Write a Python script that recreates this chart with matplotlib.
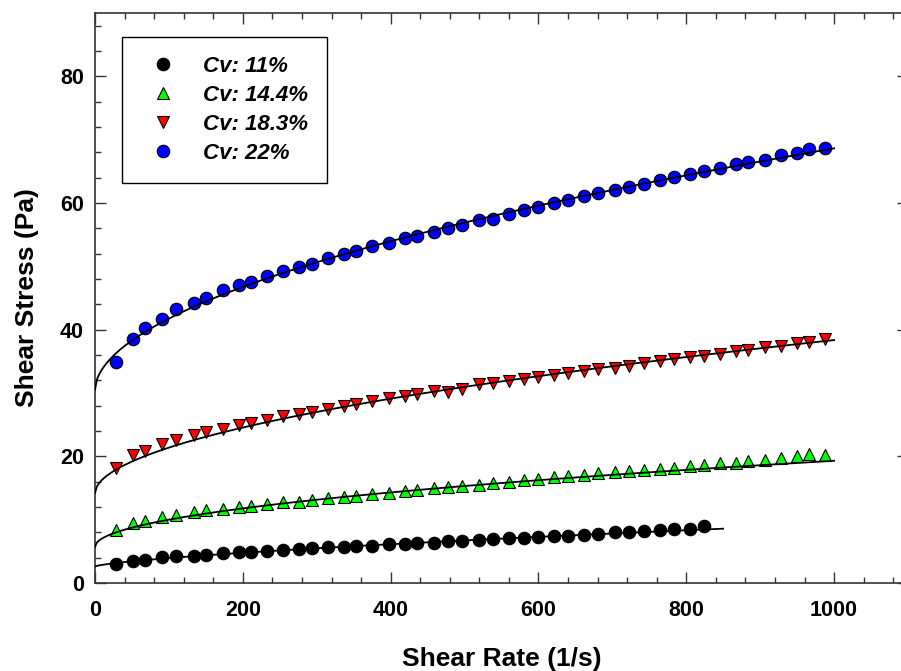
import numpy as np
import matplotlib
matplotlib.use('Agg')
import matplotlib.pyplot as plt
from matplotlib.ticker import MultipleLocator

plt.rcParams['font.family'] = ['Liberation Sans', 'DejaVu Sans']
plt.rcParams['font.weight'] = 'bold'

# shear rate (1/s)
rate = [29, 51, 68, 90, 110, 134, 150, 173, 195, 211, 233, 254, 276, 293, 315, 337,
        353, 375, 398, 420, 436, 458, 477, 497, 519, 538, 560, 580, 599, 621, 640, 662,
        681, 704, 723, 743, 764, 784, 805, 824, 845, 867, 884, 906, 928, 950, 966, 988]

# shear stress (Pa)
cv11 = [3.0, 3.43, 3.64, 4.06, 4.27, 4.32, 4.48, 4.69, 4.9, 4.95, 5.11, 5.22, 5.38, 5.48,
        5.64, 5.75, 5.85, 5.85, 6.11, 6.22, 6.32, 6.38, 6.59, 6.69, 6.8, 6.9, 7.17, 7.17,
        7.27, 7.43, 7.48, 7.64, 7.8, 8.01, 8.11, 8.17, 8.38, 8.49, 8.59, 8.96]
cv144 = [8.4, 9.4, 9.85, 10.4, 10.8, 11.2, 11.5, 11.75, 11.95, 12.2, 12.5, 12.75, 12.85,
         13.1, 13.4, 13.6, 13.8, 14.1, 14.2, 14.5, 14.75, 14.95, 15.1, 15.3, 15.5, 15.75,
         16.0, 16.2, 16.45, 16.7, 16.85, 17.1, 17.4, 17.5, 17.65, 17.9, 18.0, 18.2, 18.55,
         18.65, 18.9, 19.0, 19.3, 19.5, 19.75, 20.0, 20.3, 20.2]
cv183 = [18.1, 20.2, 20.9, 22.0, 22.6, 23.35, 23.8, 24.3, 24.9, 25.3, 25.8, 26.3, 26.7,
         27.0, 27.5, 28.0, 28.3, 28.7, 29.2, 29.6, 29.8, 30.25, 30.2, 30.7, 31.4, 31.6,
         31.9, 32.2, 32.5, 32.9, 33.2, 33.5, 33.8, 34.0, 34.3, 34.8, 35.1, 35.3, 35.7,
         35.9, 36.2, 36.6, 36.8, 37.2, 37.4, 37.9, 38.05, 38.5]
cv22 = [34.9, 38.5, 40.2, 41.7, 43.2, 44.2, 45.0, 46.2, 47.1, 47.6, 48.4, 49.2, 49.9,
        50.4, 51.3, 52.0, 52.4, 53.2, 53.7, 54.4, 54.8, 55.4, 56.0, 56.6, 57.3, 57.55,
        58.3, 58.9, 59.4, 60.0, 60.55, 61.1, 61.55, 62.0, 62.6, 63.0, 63.6, 64.1, 64.6,
        65.0, 65.6, 66.1, 66.4, 66.8, 67.6, 67.9, 68.5, 68.7]

labels = ['Cv: 11%', 'Cv: 14.4%', 'Cv: 18.3%', 'Cv: 22%']
colors = ['black', '#00ff00', '#ff0000', '#0000ff']
markers = ['o', '^', 'v', 'o']

# Herschel-Bulkley fit curves: tau0, K, n, max rate
fits = [(2.6, 0.0532, 0.70, 850),
        (5.7, 0.43, 0.50, 1000),
        (14.2, 0.634, 0.527, 1000),
        (30.5, 0.98, 0.53, 1000)]

fig = plt.figure(figsize=(9.01, 6.71), dpi=100, facecolor='w')
ax = fig.add_axes([95/901, 88/671, 813/901, 570/671])

series = [cv11, cv144, cv183, cv22]
for ydata, lab, col, mk, (t0, k, n, gmax) in zip(series, labels, colors, markers, fits):
    ax.plot(rate[:len(ydata)], ydata, linestyle='none', marker=mk, markersize=9,
            markerfacecolor=col, markeredgecolor='black', markeredgewidth=0.8,
            label=lab, zorder=3)
    g = np.linspace(0, gmax, 400)
    ax.plot(g, t0 + k * g**n, color='black', linewidth=1.3, zorder=4)

ax.set_xlim(0, 1100)
ax.set_ylim(0, 90)
ax.xaxis.set_major_locator(MultipleLocator(200))
ax.xaxis.set_minor_locator(MultipleLocator(40))
ax.yaxis.set_major_locator(MultipleLocator(20))
ax.yaxis.set_minor_locator(MultipleLocator(4))
ax.tick_params(which='both', direction='in', top=True, right=True, color='#333333')
ax.tick_params(which='major', length=8, width=1.0)
ax.tick_params(which='minor', length=4, width=1.0)
ax.tick_params(axis='x', labelsize=15.5, pad=12)
ax.tick_params(axis='y', labelsize=15.5, pad=8)
for pos in ['top', 'bottom', 'left', 'right']:
    ax.spines[pos].set_linewidth(1.2)
    ax.spines[pos].set_color('#333333')

ax.set_xlabel('Shear Rate (1/s)', fontsize=19, fontweight='bold', labelpad=19)
ax.set_ylabel('Shear Stress (Pa)', fontsize=19, fontweight='bold', labelpad=15)

leg = ax.legend(loc='upper left', bbox_to_anchor=((122-95)/813, (583-37)/570),
                numpoints=1, fancybox=False, frameon=True, framealpha=1,
                edgecolor='black', borderpad=0.85, handlelength=2.0,
                handletextpad=0.8, labelspacing=0.36, borderaxespad=0,
                prop={'size': 16, 'weight': 'bold', 'style': 'italic'})
leg.get_frame().set_linewidth(1.0)
for h in leg.legend_handles:
    h.set_markersize(9)

fig.savefig('out.png', dpi=100)
